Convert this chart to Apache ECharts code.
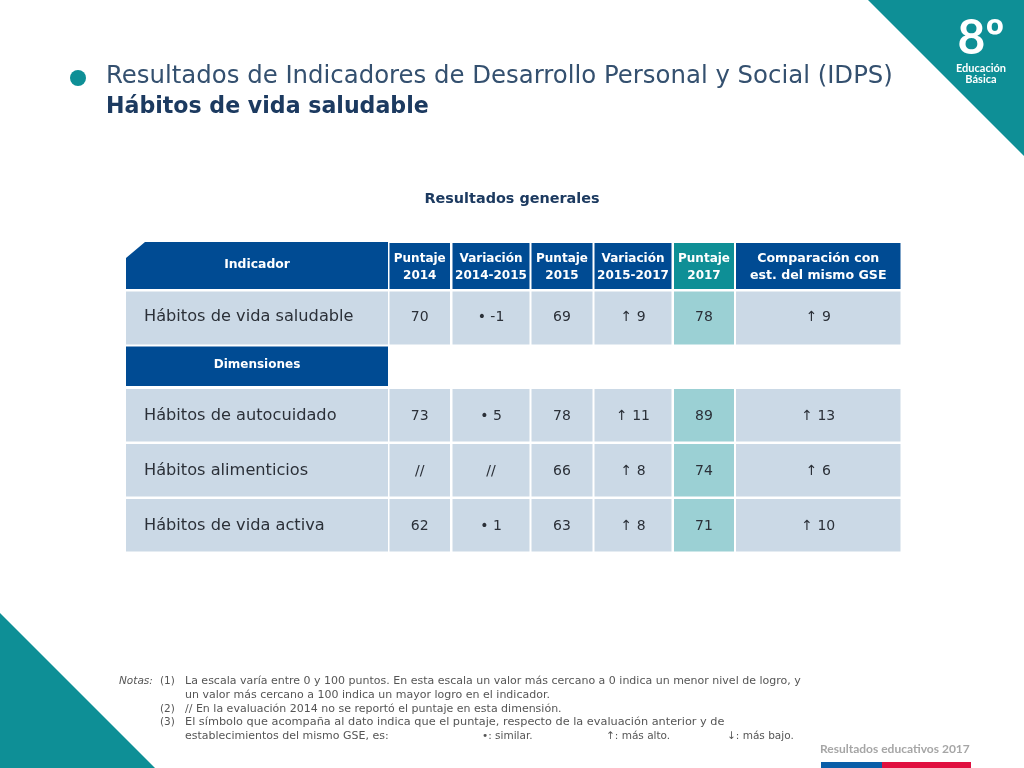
<!DOCTYPE html>
<html>
<head>
<meta charset="utf-8">
<title>Hábitos de vida saludable</title>
<script src="https://cdn.jsdelivr.net/npm/echarts@6/dist/echarts.min.js"></script>
<style>
  html, body { margin: 0; padding: 0; background: #fff; }
  #chart { width: 1024px; height: 768px; }
</style>
</head>
<body>
<div id="chart"></div>
<script>
// table content
var columnHeaders = ['Indicador', 'Puntaje\n2014', 'Variación\n2014-2015', 'Puntaje\n2015', 'Variación\n2015-2017', 'Puntaje\n2017', 'Comparación con\nest. del mismo GSE'];
var indicators = ['Hábitos de vida saludable', 'Hábitos de autocuidado', 'Hábitos alimenticios', 'Hábitos de vida activa'];
var dimensionsLabel = 'Dimensiones';
var puntaje2014 = ['70', '73', '//', '62'];
var variacion20142015 = ['• -1', '• 5', '//', '• 1'];
var puntaje2015 = ['69', '78', '66', '63'];
var variacion20152017 = ['↑ 9', '↑ 11', '↑ 8', '↑ 8'];
var puntaje2017 = ['78', '89', '74', '71'];
var comparacionGSE = ['↑ 9', '↑ 13', '↑ 6', '↑ 10'];

// other text on the slide
var titleLine1 = 'Resultados de Indicadores de Desarrollo Personal y Social (IDPS)';
var titleLine2 = 'Hábitos de vida saludable';
var subTitle = 'Resultados generales';
var noteLines = [
  'La escala varía entre 0 y 100 puntos. En esta escala un valor más cercano a 0 indica un menor nivel de logro, y',
  'un valor más cercano a 100 indica un mayor logro en el indicador.',
  '// En la evaluación 2014 no se reportó el puntaje en esta dimensión.',
  'El símbolo que acompaña al dato indica que el puntaje, respecto de la evaluación anterior y de',
  'establecimientos del mismo GSE, es:'
];

// layout, in page pixels
var columnEdges = [[126, 388], [389.5, 450], [452.5, 529.5], [531.5, 592.5], [594.5, 671.5], [674, 734], [736, 900.5]];
var rowEdges = [[243, 289], [291.5, 344.5], [389, 441.5], [444, 496.5], [499, 551.5]];
var rowTextY = [265.5, 317, 416, 471, 526];
var dimensionsEdges = [346.5, 386];

var FONT = '"DejaVu Sans", sans-serif';
var LATO = 'Lato, sans-serif';
var NAVY = '#004b93', CELL = '#cbd9e6', TEAL = '#0e8f96', TEAL_LIGHT = '#9bd0d4';
var TEXT_DARK = '#2b3038', TITLE = '#1c3a60', TITLE_LIGHT = '#34506f', NOTE = '#555555';

var valueColumns = [puntaje2014, variacion20142015, puntaje2015, variacion20152017, puntaje2017, comparacionGSE];

// [col, rowTop, rowBottom, text, kind, textY]
var cells = [];
columnHeaders.forEach(function (h, c) {
  cells.push([c, rowEdges[0][0], rowEdges[0][1], h, c === 0 ? 'corner' : (c === 5 ? 'headTeal' : 'head'), rowTextY[0] + (c === 0 ? -0.5 : 1.5)]);
});
indicators.forEach(function (name, r) {
  var edge = rowEdges[r + 1];
  cells.push([0, edge[0], edge[1], name, 'name', rowTextY[r + 1] - 0.5]);
  valueColumns.forEach(function (values, i) {
    cells.push([i + 1, edge[0], edge[1], values[r], i === 4 ? 'valueTeal' : 'value', rowTextY[r + 1]]);
  });
});
cells.push([0, dimensionsEdges[0], dimensionsEdges[1], dimensionsLabel, 'headBand', 365]);

function renderCell(params, api) {
  var col = api.value(0);
  var edge = columnEdges[col];
  var p0 = api.coord([edge[0], api.value(1)]);
  var p1 = api.coord([edge[1], api.value(2)]);
  var cell = cells[params.dataIndex];
  var kind = cell[4];
  var isHead = kind === 'head' || kind === 'headTeal' || kind === 'corner' || kind === 'headBand';
  var fill = isHead ? NAVY : CELL;
  if (kind === 'headTeal') fill = TEAL;
  if (kind === 'valueTeal') fill = TEAL_LIGHT;

  var bg;
  if (kind === 'corner') {
    bg = { type: 'polygon', shape: { points: [[p0[0], p0[1] + 15], [p0[0] + 19, p0[1] - 1], [p1[0], p0[1] - 1], [p1[0], p1[1]], [p0[0], p1[1]]] }, style: { fill: fill } };
  } else {
    bg = { type: 'rect', shape: { x: p0[0], y: p0[1], width: p1[0] - p0[0], height: p1[1] - p0[1] }, style: { fill: fill } };
  }

  var isName = kind === 'name';
  var size = isName ? 16.2 : (isHead ? 12 : 14);
  if (kind === 'corner') size = 12.4;
  if (col === 6 && kind === 'head') size = 12.6;
  var label = {
    type: 'text',
    style: {
      text: cell[3],
      x: isName ? p0[0] + 18 : (p0[0] + p1[0]) / 2,
      y: api.coord([0, cell[5]])[1],
      align: isName ? 'left' : 'center',
      verticalAlign: 'middle',
      fill: isHead ? '#ffffff' : TEXT_DARK,
      font: (isHead ? 'bold ' : '') + size + 'px ' + FONT,
      lineHeight: 17
    }
  };
  return { type: 'group', children: [bg, label] };
}

function textItem(text, x, y, size, fill, opts) {
  opts = opts || {};
  return {
    type: 'text',
    silent: true,
    style: {
      text: text, x: x, y: y,
      align: opts.align || 'left',
      verticalAlign: 'middle',
      fill: fill,
      font: (opts.style ? opts.style + ' ' : '') + size + 'px ' + (opts.font || FONT)
    }
  };
}

function triangle(points, fill) {
  return { type: 'polygon', silent: true, shape: { points: points }, style: { fill: fill } };
}

var graphics = [
  triangle([[868, 0], [1024, 0], [1024, 156]], TEAL),
  triangle([[0, 613], [155, 768], [0, 768]], TEAL),
  { type: 'circle', silent: true, shape: { cx: 78, cy: 78, r: 8 }, style: { fill: TEAL } },
  textItem('8º', 981, 39, 48, '#ffffff', { align: 'center', style: 'bold', font: LATO }),
  textItem('Educación', 981, 68, 11, '#ffffff', { align: 'center', style: 'bold', font: LATO }),
  textItem('Básica', 981, 79, 11, '#ffffff', { align: 'center', style: 'bold', font: LATO }),
  textItem(titleLine1, 106, 77, 24.4, TITLE_LIGHT),
  textItem(titleLine2, 106, 107, 22.1, TITLE, { style: 'bold' }),
  textItem(subTitle, 512, 199, 14.4, TITLE, { align: 'center', style: 'bold' }),
  textItem('Notas:', 119, 681, 10.5, NOTE, { style: 'italic' }),
  textItem('(1)', 160, 681, 10.5, NOTE),
  textItem(noteLines[0], 185, 681, 11, NOTE),
  textItem(noteLines[1], 185, 695, 11, NOTE),
  textItem('(2)', 160, 709, 10.5, NOTE),
  textItem(noteLines[2], 185, 709, 11, NOTE),
  textItem('(3)', 160, 722, 10.5, NOTE),
  textItem(noteLines[3], 185, 722, 11.3, NOTE),
  textItem(noteLines[4], 185, 736, 11, NOTE),
  textItem('•: similar.', 482, 736, 10.5, NOTE),
  textItem('↑: más alto.', 606, 736, 10.5, NOTE),
  textItem('↓: más bajo.', 727, 736, 10.5, NOTE),
  textItem('Resultados educativos 2017', 820, 749, 12, '#a6a6a6', { style: 'bold', font: LATO }),
  { type: 'rect', silent: true, shape: { x: 821, y: 762, width: 61, height: 6 }, style: { fill: '#0a5ea8' } },
  { type: 'rect', silent: true, shape: { x: 882, y: 762, width: 89, height: 6 }, style: { fill: '#e0103f' } }
];

var chart = echarts.init(document.getElementById('chart'), null, { renderer: 'canvas' });
chart.setOption({
  animation: false,
  backgroundColor: '#ffffff',
  grid: { left: 0, right: 0, top: 0, bottom: 0 },
  xAxis: { type: 'value', min: 0, max: 1024, show: false },
  yAxis: { type: 'value', min: 0, max: 768, inverse: true, show: false },
  graphic: graphics,
  series: [{
    type: 'custom',
    coordinateSystem: 'cartesian2d',
    silent: true,
    clip: false,
    renderItem: renderCell,
    encode: { x: [0], y: [1] },
    data: cells.map(function (c) { return [c[0], c[1], c[2]]; })
  }]
});
</script>
</body>
</html>
